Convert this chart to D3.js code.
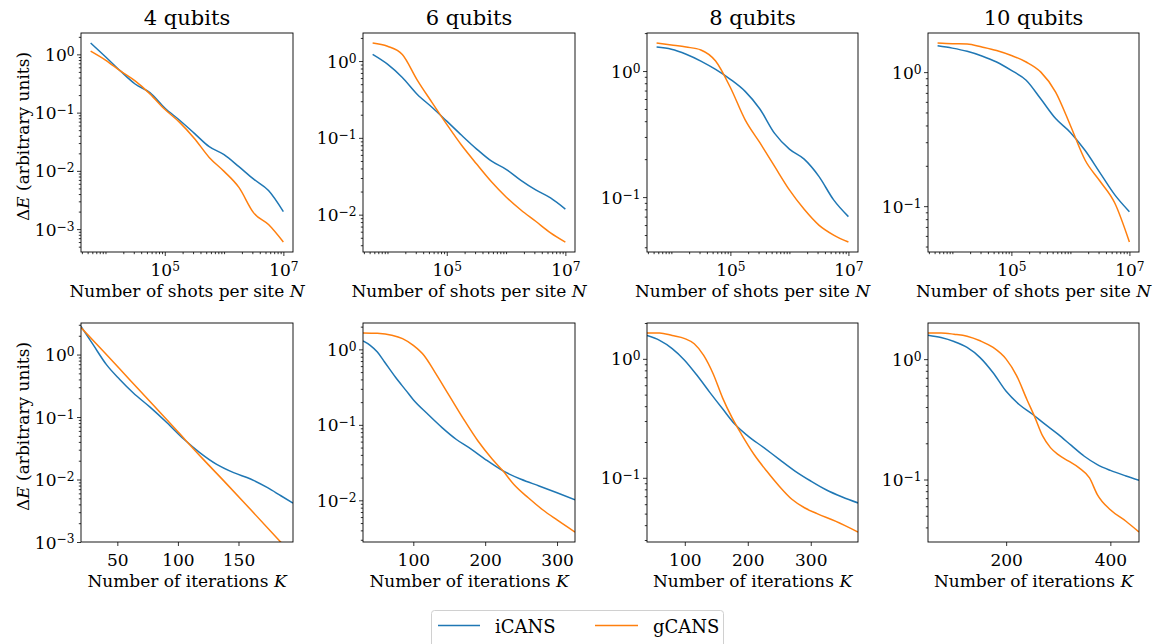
<!DOCTYPE html>
<html><head><meta charset="utf-8">
<script src="https://cdn.jsdelivr.net/npm/d3@7"></script>
<style>
body{margin:0;background:#fff}
svg text{fill:#000}
</style>
</head><body><svg id="c" width="1155" height="644"></svg>
<script>
// ---------- data ----------
const titles = ["4 qubits", "6 qubits", "8 qubits", "10 qubits"];
const seriesNames = ["iCANS", "gCANS"];
const seriesColors = ["#1f77b4", "#ff7f0e"];

// top row: shots per site N (shared)
const shots = [5620, 10000, 17800, 31600, 56200, 100000, 178000, 316000, 562000, 1000000, 1780000, 3160000, 5620000, 10000000];
const shots_iCANS_4  = [1.57, 0.91, 0.52, 0.31, 0.22, 0.12, 0.074, 0.044, 0.026, 0.019, 0.0118, 0.0072, 0.0046, 0.0020];
const shots_gCANS_4  = [1.14, 0.80, 0.52, 0.35, 0.21, 0.114, 0.068, 0.036, 0.017, 0.0098, 0.0052, 0.0019, 0.0012, 0.0006];
const shots_iCANS_6  = [1.22, 0.91, 0.61, 0.37, 0.25, 0.165, 0.108, 0.072, 0.050, 0.039, 0.028, 0.021, 0.0165, 0.0118];
const shots_gCANS_6  = [1.72, 1.56, 1.22, 0.57, 0.29, 0.150, 0.080, 0.046, 0.027, 0.017, 0.0115, 0.0082, 0.0058, 0.0044];
const shots_iCANS_8  = [1.55, 1.49, 1.36, 1.20, 1.03, 0.86, 0.69, 0.50, 0.32, 0.24, 0.20, 0.146, 0.095, 0.070];
const shots_gCANS_8  = [1.67, 1.61, 1.55, 1.47, 1.20, 0.74, 0.41, 0.27, 0.175, 0.114, 0.080, 0.060, 0.050, 0.044];
const shots_iCANS_10 = [1.57, 1.51, 1.43, 1.32, 1.19, 1.03, 0.87, 0.63, 0.45, 0.355, 0.26, 0.178, 0.122, 0.091];
const shots_gCANS_10 = [1.65, 1.63, 1.62, 1.54, 1.45, 1.33, 1.19, 1.00, 0.71, 0.40, 0.22, 0.154, 0.106, 0.054];
const shotTicks = [1e5, 1e7];
const shotMinorTicks = [1e4, 1e6];

// bottom row: iterations K
const iterK_iCANS_4 = [20, 30, 41, 52, 63, 77, 91, 105, 118, 132, 146, 160, 174, 185, 195];
const iter_iCANS_4  = [2.83, 1.44, 0.69, 0.40, 0.245, 0.144, 0.081, 0.044, 0.027, 0.0175, 0.0129, 0.0102, 0.0074, 0.0055, 0.0042];
const iterK_gCANS_4 = [20, 40, 60, 80, 100, 120, 140, 160, 180, 195];
const iter_gCANS_4  = [2.7, 1.05, 0.40, 0.153, 0.058, 0.022, 0.0086, 0.0033, 0.00126, 0.00061];

const iterK_iCANS_6 = [30, 40, 50, 60, 75, 90, 100, 120, 140, 160, 180, 200, 225, 250, 275, 300, 325];
const iter_iCANS_6  = [1.29, 1.13, 0.92, 0.68, 0.43, 0.284, 0.215, 0.139, 0.092, 0.064, 0.048, 0.035, 0.0245, 0.019, 0.0155, 0.0126, 0.0102];
const iterK_gCANS_6 = [30, 50, 70, 85, 100, 115, 130, 150, 170, 190, 210, 225, 240, 260, 280, 300, 325];
const iter_gCANS_6  = [1.65, 1.63, 1.54, 1.39, 1.13, 0.83, 0.50, 0.244, 0.119, 0.061, 0.035, 0.0244, 0.0162, 0.0108, 0.0075, 0.0055, 0.0038];

const iterK_iCANS_8 = [40, 60, 80, 100, 120, 140, 160, 180, 200, 225, 250, 275, 300, 325, 350, 375];
const iter_iCANS_8  = [1.57, 1.43, 1.22, 0.97, 0.72, 0.52, 0.38, 0.28, 0.225, 0.18, 0.143, 0.114, 0.094, 0.079, 0.069, 0.0615];
const iterK_gCANS_8 = [40, 60, 80, 100, 115, 130, 145, 160, 175, 190, 210, 230, 250, 270, 290, 310, 340, 375];
const iter_gCANS_8  = [1.65, 1.65, 1.57, 1.48, 1.34, 1.07, 0.75, 0.47, 0.32, 0.232, 0.157, 0.114, 0.085, 0.066, 0.056, 0.050, 0.043, 0.035];

const iterK_iCANS_10 = [50, 75, 100, 125, 150, 175, 200, 225, 250, 275, 300, 325, 350, 375, 400, 430, 455];
const iter_iCANS_10  = [1.58, 1.51, 1.40, 1.25, 1.03, 0.77, 0.54, 0.42, 0.35, 0.287, 0.237, 0.192, 0.156, 0.133, 0.119, 0.107, 0.0987];
const iterK_gCANS_10 = [50, 75, 100, 125, 150, 175, 200, 220, 240, 255, 270, 285, 300, 320, 340, 360, 375, 400, 430, 455];
const iter_gCANS_10  = [1.65, 1.65, 1.61, 1.55, 1.42, 1.25, 1.00, 0.73, 0.46, 0.33, 0.23, 0.184, 0.161, 0.142, 0.125, 0.103, 0.075, 0.056, 0.045, 0.0366];

const iterTicks = [[50, 100, 150], [100, 200, 300], [100, 200, 300], [200, 400]];
const iterYMin4 = 1e-3;   // fixed lower limit of the 4-qubit iteration panel
const iterYMax4 = 3.2;

// ---------- layout ----------
const FONT = "DejaVu Serif";
const cols = [[81, 293], [363, 575], [647, 858], [928, 1139]];
const rows = [[33, 252], [323, 542]];
const LW = 1.5;
const TICK_FS = 17;

const svg = d3.select("#c").attr("font-family", FONT);
const zip = (xs, ys) => xs.map((x, i) => [x, ys[i]]);

const panels = [];
const topData = [[shots_iCANS_4, shots_gCANS_4], [shots_iCANS_6, shots_gCANS_6], [shots_iCANS_8, shots_gCANS_8], [shots_iCANS_10, shots_gCANS_10]];
topData.forEach((p, i) => panels.push({row: 0, col: i, series: [zip(shots, p[0]), zip(shots, p[1])]}));
const botData = [
  [zip(iterK_iCANS_4, iter_iCANS_4), zip(iterK_gCANS_4, iter_gCANS_4)],
  [zip(iterK_iCANS_6, iter_iCANS_6), zip(iterK_gCANS_6, iter_gCANS_6)],
  [zip(iterK_iCANS_8, iter_iCANS_8), zip(iterK_gCANS_8, iter_gCANS_8)],
  [zip(iterK_iCANS_10, iter_iCANS_10), zip(iterK_gCANS_10, iter_gCANS_10)]
];
botData.forEach((s, i) => panels.push({row: 1, col: i, series: s}));

function logPad(vals) {
  const l = vals.map(Math.log10);
  const lo = d3.min(l), hi = d3.max(l), m = (hi - lo) * 0.05;
  return [Math.pow(10, lo - m), Math.pow(10, hi + m)];
}
function powLabel(sel) {
  sel.each(function(d) {
    const e = Math.round(Math.log10(d));
    const t = d3.select(this);
    t.text(null);
    t.append("tspan").text("10");
    t.append("tspan").attr("dy", "-0.42em").attr("font-size", "0.72em").text(e < 0 ? "\u2212" + (-e) : String(e));
  });
}
function minorLog(domain) {
  const out = [];
  const lo = Math.floor(Math.log10(domain[0])), hi = Math.ceil(Math.log10(domain[1]));
  for (let e = lo; e <= hi; e++) for (let k = 2; k <= 9; k++) {
    const v = k * Math.pow(10, e);
    if (v >= domain[0] && v <= domain[1]) out.push(v);
  }
  return out;
}
function majorLog(domain) {
  const out = [];
  for (let e = Math.ceil(Math.log10(domain[0])); e <= Math.floor(Math.log10(domain[1])); e++) out.push(Math.pow(10, e));
  return out;
}

panels.forEach((p, idx) => {
  const [x0, x1] = cols[p.col], [y0, y1] = rows[p.row];
  const g = svg.append("g");
  const allX = p.series.flatMap(s => s.map(d => d[0]));
  const allY = p.series.flatMap(s => s.map(d => d[1]));
  let x;
  if (p.row === 0) x = d3.scaleLog().domain(logPad(allX)).range([x0, x1]);
  else x = d3.scaleLinear().domain(d3.extent(allX)).range([x0, x1]);
  let yd = logPad(allY);
  if (p.row === 1 && p.col === 0) yd = [iterYMin4, iterYMax4];
  const y = d3.scaleLog().domain(yd).range([y1, y0]);

  const cid = "clip" + idx;
  svg.append("clipPath").attr("id", cid).append("rect").attr("x", x0).attr("y", y0).attr("width", x1 - x0).attr("height", y1 - y0);

  const line = d3.line().x(d => x(d[0])).y(d => y(d[1])).curve(d3.curveMonotoneX);
  p.series.forEach((s, si) => {
    g.append("path").attr("clip-path", `url(#${cid})`).attr("d", line(s))
      .attr("fill", "none").attr("stroke", seriesColors[si]).attr("stroke-width", LW)
      .attr("stroke-linejoin", "round").attr("stroke-linecap", "butt");
  });

  const ya = g.append("g").attr("transform", `translate(${x0},0)`)
    .call(d3.axisLeft(y).tickValues(majorLog(yd)).tickSize(4).tickPadding(2.5).tickSizeOuter(0));
  ya.select(".domain").remove();
  ya.selectAll(".tick text").attr("font-size", TICK_FS).attr("dy", "0.36em").call(powLabel);
  const ym = g.append("g").attr("transform", `translate(${x0},0)`)
    .call(d3.axisLeft(y).tickValues(minorLog(yd)).tickSize(2.2).tickFormat(() => "").tickSizeOuter(0));
  ym.select(".domain").remove();

  const xa = g.append("g").attr("transform", `translate(0,${y1})`);
  if (p.row === 0) {
    xa.call(d3.axisBottom(x).tickValues(shotTicks).tickSize(4).tickSizeOuter(0));
    xa.selectAll(".tick text").attr("font-size", TICK_FS).attr("y", 24).attr("dy", 0).call(powLabel);
    const xm = g.append("g").attr("transform", `translate(0,${y1})`)
      .call(d3.axisBottom(x).tickValues(shotMinorTicks.concat(minorLog(x.domain()))).tickSize(2.2).tickFormat(() => "").tickSizeOuter(0));
    xm.select(".domain").remove();
  } else {
    xa.call(d3.axisBottom(x).tickValues(iterTicks[p.col]).tickSize(4).tickSizeOuter(0));
    xa.selectAll(".tick text").attr("font-size", TICK_FS).attr("y", 24).attr("dy", 0);
  }
  xa.select(".domain").remove();
  g.selectAll(".tick line").attr("stroke", "#000").attr("stroke-width", 0.8);
  g.selectAll("g").attr("font-family", FONT);

  g.append("rect").attr("x", x0).attr("y", y0).attr("width", x1 - x0).attr("height", y1 - y0)
    .attr("fill", "none").attr("stroke", "#000").attr("stroke-width", 0.9);

  const xl = g.append("text").attr("x", (x0 + x1) / 2).attr("y", y1 + 45)
    .attr("text-anchor", "middle").attr("font-size", 17);
  xl.append("tspan").text(p.row === 0 ? "Number of shots per site " : "Number of iterations ");
  xl.append("tspan").attr("font-style", "italic").text(p.row === 0 ? "N" : "K");

  if (p.row === 0) {
    g.append("text").attr("x", (x0 + x1) / 2).attr("y", y0 - 8).attr("text-anchor", "middle")
      .attr("font-size", 21).text(titles[p.col]);
  }
  if (p.col === 0) {
    const cy = (y0 + y1) / 2 - 6;
    const yl = g.append("text").attr("transform", `translate(29,${cy}) rotate(-90)`)
      .attr("text-anchor", "middle").attr("font-size", 17);
    yl.append("tspan").text("\u0394");
    yl.append("tspan").attr("font-style", "italic").text("E");
    yl.append("tspan").text(" (arbitrary units)");
  }
});

const lg = svg.append("g");
lg.append("rect").attr("x", 431.5).attr("y", 610.5).attr("width", 292).attr("height", 44).attr("rx", 3)
  .attr("fill", "#fff").attr("stroke", "#d0d0d0").attr("stroke-width", 1);
const legX = [[438, 480, 495], [595, 638, 653]];
seriesNames.forEach((n, i) => {
  lg.append("line").attr("x1", legX[i][0]).attr("x2", legX[i][1]).attr("y1", 625.5).attr("y2", 625.5)
    .attr("stroke", seriesColors[i]).attr("stroke-width", LW);
  lg.append("text").attr("x", legX[i][2]).attr("y", 633).attr("font-size", 18).text(n);
});
</script></body></html>
